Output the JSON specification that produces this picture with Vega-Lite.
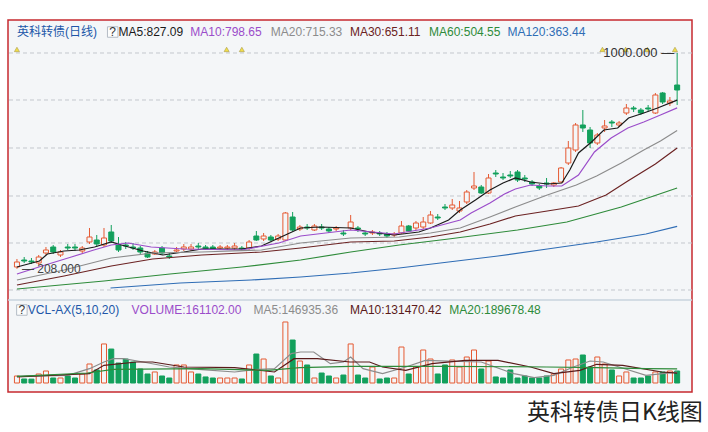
{
"$schema":"https://vega.github.io/schema/vega-lite/v6.json",
"width":684,"height":372,"autosize":"none",
"padding":{"left":8,"top":20,"right":16,"bottom":40},
"background":"white",
"title":{"text":"英科转债日K线图","orient":"bottom","anchor":"end","font":"Noto Sans CJK SC","fontSize":23,"fontWeight":"normal","color":"#222222","offset":10,"dx":10},
"config":{"view":{"fill":"#f4f6f8","stroke":"#c62a2f","strokeWidth":1.5}},
"datasets":{
"candles":[
{"i":0,"o":214.6,"h":244.0,"l":208.0,"c":233.0,"v":94000},
{"i":1,"o":240.3,"h":251.3,"l":229.3,"c":236.6,"v":54000},
{"i":2,"o":236.6,"h":247.7,"l":225.6,"c":233.0,"v":52000},
{"i":3,"o":229.3,"h":258.7,"l":222.0,"c":251.3,"v":121000},
{"i":4,"o":266.0,"h":288.0,"l":258.7,"c":277.0,"v":161000},
{"i":5,"o":288.0,"h":295.4,"l":262.3,"c":269.7,"v":67000},
{"i":6,"o":258.7,"h":277.0,"l":251.3,"c":269.7,"v":67000},
{"i":7,"o":288.0,"h":299.0,"l":277.0,"c":284.3,"v":94000},
{"i":8,"o":288.0,"h":299.0,"l":273.3,"c":284.3,"v":67000},
{"i":9,"o":273.3,"h":291.7,"l":266.0,"c":284.3,"v":121000},
{"i":10,"o":306.4,"h":357.8,"l":299.0,"c":324.7,"v":255000},
{"i":11,"o":313.7,"h":332.1,"l":288.0,"c":299.0,"v":175000},
{"i":12,"o":295.4,"h":357.8,"l":288.0,"c":321.1,"v":524000},
{"i":13,"o":343.1,"h":368.8,"l":302.7,"c":310.0,"v":456000},
{"i":14,"o":295.4,"h":324.7,"l":269.7,"c":277.0,"v":268000},
{"i":15,"o":295.4,"h":306.4,"l":280.7,"c":291.7,"v":322000},
{"i":16,"o":288.0,"h":302.7,"l":277.0,"c":284.3,"v":282000},
{"i":17,"o":284.3,"h":291.7,"l":262.3,"c":269.7,"v":188000},
{"i":18,"o":266.0,"h":273.3,"l":247.7,"c":251.3,"v":121000},
{"i":19,"o":262.3,"h":277.0,"l":258.7,"c":269.7,"v":148000},
{"i":20,"o":284.3,"h":291.7,"l":258.7,"c":266.0,"v":94000},
{"i":21,"o":255.0,"h":266.0,"l":244.0,"c":251.3,"v":67000},
{"i":22,"o":273.3,"h":288.0,"l":266.0,"c":277.0,"v":242000},
{"i":23,"o":280.7,"h":299.0,"l":273.3,"c":288.0,"v":242000},
{"i":24,"o":280.7,"h":299.0,"l":273.3,"c":288.0,"v":148000},
{"i":25,"o":291.7,"h":302.7,"l":280.7,"c":288.0,"v":121000},
{"i":26,"o":288.0,"h":295.4,"l":277.0,"c":280.7,"v":81000},
{"i":27,"o":288.0,"h":295.4,"l":277.0,"c":280.7,"v":67000},
{"i":28,"o":284.3,"h":295.4,"l":277.0,"c":288.0,"v":67000},
{"i":29,"o":284.3,"h":295.4,"l":277.0,"c":288.0,"v":67000},
{"i":30,"o":284.3,"h":302.7,"l":277.0,"c":291.7,"v":67000},
{"i":31,"o":284.3,"h":291.7,"l":273.3,"c":280.7,"v":54000},
{"i":32,"o":284.3,"h":313.7,"l":277.0,"c":306.4,"v":242000},
{"i":33,"o":328.4,"h":346.7,"l":310.0,"c":313.7,"v":389000},
{"i":34,"o":317.4,"h":339.4,"l":310.0,"c":328.4,"v":322000},
{"i":35,"o":324.7,"h":332.1,"l":310.0,"c":313.7,"v":94000},
{"i":36,"o":317.4,"h":335.7,"l":310.0,"c":328.4,"v":67000},
{"i":37,"o":313.7,"h":416.5,"l":310.0,"c":412.8,"v":819000},
{"i":38,"o":398.1,"h":416.5,"l":346.7,"c":350.4,"v":577000},
{"i":39,"o":354.1,"h":368.8,"l":346.7,"c":361.4,"v":295000},
{"i":40,"o":361.4,"h":372.4,"l":350.4,"c":357.8,"v":242000},
{"i":41,"o":350.4,"h":372.4,"l":346.7,"c":365.1,"v":67000},
{"i":42,"o":361.4,"h":372.4,"l":350.4,"c":357.8,"v":134000},
{"i":43,"o":354.1,"h":361.4,"l":339.4,"c":346.7,"v":94000},
{"i":44,"o":354.1,"h":365.1,"l":346.7,"c":357.8,"v":67000},
{"i":45,"o":339.4,"h":350.4,"l":328.4,"c":335.7,"v":107000},
{"i":46,"o":357.8,"h":405.5,"l":350.4,"c":379.8,"v":524000},
{"i":47,"o":357.8,"h":365.1,"l":343.1,"c":354.1,"v":107000},
{"i":48,"o":339.4,"h":346.7,"l":328.4,"c":335.7,"v":67000},
{"i":49,"o":339.4,"h":350.4,"l":332.1,"c":343.1,"v":215000},
{"i":50,"o":339.4,"h":346.7,"l":328.4,"c":335.7,"v":54000},
{"i":51,"o":335.7,"h":343.1,"l":321.1,"c":328.4,"v":67000},
{"i":52,"o":332.1,"h":343.1,"l":324.7,"c":335.7,"v":67000},
{"i":53,"o":339.4,"h":383.4,"l":335.7,"c":365.1,"v":483000},
{"i":54,"o":365.1,"h":368.8,"l":343.1,"c":346.7,"v":121000},
{"i":55,"o":357.8,"h":383.4,"l":350.4,"c":376.1,"v":215000},
{"i":56,"o":361.4,"h":398.1,"l":354.1,"c":379.8,"v":443000},
{"i":57,"o":376.1,"h":420.1,"l":372.4,"c":405.5,"v":322000},
{"i":58,"o":398.1,"h":409.1,"l":387.1,"c":394.5,"v":121000},
{"i":59,"o":434.8,"h":445.8,"l":423.8,"c":431.2,"v":242000},
{"i":60,"o":431.2,"h":464.2,"l":423.8,"c":442.2,"v":309000},
{"i":61,"o":420.1,"h":456.8,"l":412.8,"c":431.2,"v":215000},
{"i":62,"o":453.2,"h":497.2,"l":445.8,"c":489.9,"v":349000},
{"i":63,"o":504.6,"h":563.3,"l":497.2,"c":511.9,"v":443000},
{"i":64,"o":508.2,"h":515.6,"l":482.5,"c":486.2,"v":188000},
{"i":65,"o":486.2,"h":555.9,"l":482.5,"c":541.3,"v":295000},
{"i":66,"o":559.6,"h":570.6,"l":544.9,"c":555.9,"v":81000},
{"i":67,"o":544.9,"h":559.6,"l":533.9,"c":541.3,"v":67000},
{"i":68,"o":552.3,"h":566.9,"l":541.3,"c":548.6,"v":175000},
{"i":69,"o":563.3,"h":570.6,"l":526.6,"c":533.9,"v":67000},
{"i":70,"o":541.3,"h":552.3,"l":526.6,"c":537.6,"v":94000},
{"i":71,"o":526.6,"h":533.9,"l":511.9,"c":519.2,"v":67000},
{"i":72,"o":511.9,"h":519.2,"l":497.2,"c":504.6,"v":67000},
{"i":73,"o":522.9,"h":541.3,"l":504.6,"c":519.2,"v":94000},
{"i":74,"o":515.6,"h":526.6,"l":508.2,"c":522.9,"v":121000},
{"i":75,"o":526.6,"h":581.6,"l":522.9,"c":577.9,"v":188000},
{"i":76,"o":596.3,"h":677.1,"l":589.0,"c":651.4,"v":309000},
{"i":77,"o":644.0,"h":743.1,"l":636.7,"c":735.8,"v":322000},
{"i":78,"o":735.8,"h":790.8,"l":710.1,"c":724.8,"v":376000},
{"i":79,"o":717.4,"h":728.4,"l":651.4,"c":669.7,"v":215000},
{"i":80,"o":669.7,"h":706.4,"l":662.4,"c":699.1,"v":349000},
{"i":81,"o":724.8,"h":754.1,"l":710.1,"c":732.1,"v":255000},
{"i":82,"o":746.8,"h":754.1,"l":728.4,"c":743.1,"v":175000},
{"i":83,"o":735.8,"h":750.4,"l":728.4,"c":743.1,"v":94000},
{"i":84,"o":779.8,"h":812.8,"l":772.5,"c":798.2,"v":148000},
{"i":85,"o":798.2,"h":805.5,"l":783.5,"c":794.5,"v":67000},
{"i":86,"o":790.8,"h":798.2,"l":772.5,"c":779.8,"v":67000},
{"i":87,"o":798.2,"h":809.2,"l":783.5,"c":794.5,"v":94000},
{"i":88,"o":779.8,"h":853.2,"l":776.1,"c":845.9,"v":148000},
{"i":89,"o":853.2,"h":856.9,"l":812.8,"c":820.2,"v":148000},
{"i":90,"o":816.5,"h":838.5,"l":805.5,"c":823.8,"v":161000},
{"i":91,"o":882.5,"h":1000.0,"l":809.2,"c":864.2,"v":161102}
],
"ma":[
{"s":"MA5","i":0,"p":214.6},{"s":"MA5","i":3.1,"p":236.6},{"s":"MA5","i":4.2,"p":262.3},{"s":"MA5","i":6.5,"p":273.3},{"s":"MA5","i":8.6,"p":277.0},{"s":"MA5","i":10.7,"p":288.0},{"s":"MA5","i":13.0,"p":306.4},{"s":"MA5","i":14.4,"p":295.4},{"s":"MA5","i":17.4,"p":273.3},{"s":"MA5","i":20.1,"p":258.7},{"s":"MA5","i":23.0,"p":269.7},{"s":"MA5","i":25.5,"p":280.7},{"s":"MA5","i":31.0,"p":280.7},{"s":"MA5","i":33.7,"p":291.7},{"s":"MA5","i":36.1,"p":321.1},{"s":"MA5","i":37.9,"p":343.1},{"s":"MA5","i":39.1,"p":357.8},{"s":"MA5","i":41.8,"p":361.4},{"s":"MA5","i":46.0,"p":357.8},{"s":"MA5","i":48.6,"p":343.1},{"s":"MA5","i":52.0,"p":332.1},{"s":"MA5","i":55.4,"p":343.1},{"s":"MA5","i":57.0,"p":357.8},{"s":"MA5","i":59.5,"p":387.1},{"s":"MA5","i":61.1,"p":423.8},{"s":"MA5","i":63.2,"p":460.5},{"s":"MA5","i":65.2,"p":497.2},{"s":"MA5","i":67.0,"p":522.9},{"s":"MA5","i":68.7,"p":541.3},{"s":"MA5","i":70.8,"p":526.6},{"s":"MA5","i":73.1,"p":519.2},{"s":"MA5","i":75.1,"p":522.9},{"s":"MA5","i":76.2,"p":570.6},{"s":"MA5","i":77.4,"p":633.0},{"s":"MA5","i":79.2,"p":673.4},{"s":"MA5","i":80.9,"p":717.4},{"s":"MA5","i":82.8,"p":724.8},{"s":"MA5","i":84.3,"p":761.5},{"s":"MA5","i":86.4,"p":779.8},{"s":"MA5","i":88.3,"p":798.2},{"s":"MA5","i":91.0,"p":827.09},
{"s":"MA10","i":0,"p":188.9},{"s":"MA10","i":3.9,"p":221.9},{"s":"MA10","i":7.5,"p":251.3},{"s":"MA10","i":10.6,"p":277.0},{"s":"MA10","i":13.0,"p":295.4},{"s":"MA10","i":15.3,"p":302.7},{"s":"MA10","i":18.5,"p":288.0},{"s":"MA10","i":23.0,"p":280.7},{"s":"MA10","i":31.0,"p":277.0},{"s":"MA10","i":36.1,"p":302.7},{"s":"MA10","i":39.1,"p":328.4},{"s":"MA10","i":46.0,"p":350.4},{"s":"MA10","i":52.0,"p":335.7},{"s":"MA10","i":57.0,"p":357.8},{"s":"MA10","i":61.1,"p":387.1},{"s":"MA10","i":62.6,"p":413.0},{"s":"MA10","i":65.2,"p":449.5},{"s":"MA10","i":67.2,"p":482.5},{"s":"MA10","i":68.7,"p":500.9},{"s":"MA10","i":70.8,"p":515.6},{"s":"MA10","i":73.1,"p":511.9},{"s":"MA10","i":75.1,"p":511.9},{"s":"MA10","i":77.4,"p":552.3},{"s":"MA10","i":79.6,"p":636.7},{"s":"MA10","i":81.9,"p":688.0},{"s":"MA10","i":84.2,"p":724.8},{"s":"MA10","i":86.4,"p":746.8},{"s":"MA10","i":88.7,"p":772.5},{"s":"MA10","i":91.0,"p":798.65},
{"s":"MA20","i":0,"p":166.9},{"s":"MA20","i":6.5,"p":203.6},{"s":"MA20","i":13.0,"p":247.7},{"s":"MA20","i":18.7,"p":266.0},{"s":"MA20","i":25.5,"p":269.7},{"s":"MA20","i":33.7,"p":277.0},{"s":"MA20","i":39.1,"p":302.7},{"s":"MA20","i":46.0,"p":321.1},{"s":"MA20","i":52.7,"p":324.7},{"s":"MA20","i":57.0,"p":339.4},{"s":"MA20","i":61.1,"p":357.8},{"s":"MA20","i":65.2,"p":398.1},{"s":"MA20","i":68.7,"p":434.8},{"s":"MA20","i":73.1,"p":478.9},{"s":"MA20","i":77.1,"p":515.6},{"s":"MA20","i":79.9,"p":548.6},{"s":"MA20","i":83.3,"p":596.3},{"s":"MA20","i":86.4,"p":644.0},{"s":"MA20","i":88.7,"p":677.1},{"s":"MA20","i":91.0,"p":715.33},
{"s":"MA30","i":0,"p":148.6},{"s":"MA30","i":6.5,"p":181.6},{"s":"MA30","i":13.0,"p":218.3},{"s":"MA30","i":18.7,"p":244.0},{"s":"MA30","i":25.5,"p":258.7},{"s":"MA30","i":33.7,"p":269.7},{"s":"MA30","i":39.1,"p":284.3},{"s":"MA30","i":46.0,"p":306.4},{"s":"MA30","i":52.0,"p":310.0},{"s":"MA30","i":57.0,"p":324.7},{"s":"MA30","i":61.1,"p":343.1},{"s":"MA30","i":65.2,"p":372.4},{"s":"MA30","i":68.7,"p":401.8},{"s":"MA30","i":73.1,"p":420.1},{"s":"MA30","i":77.4,"p":438.5},{"s":"MA30","i":81.2,"p":478.9},{"s":"MA30","i":84.2,"p":530.2},{"s":"MA30","i":88.0,"p":592.6},{"s":"MA30","i":91.0,"p":651.11},
{"s":"MA60","i":0,"p":133.9},{"s":"MA60","i":12.0,"p":163.2},{"s":"MA60","i":21.1,"p":188.9},{"s":"MA60","i":31.0,"p":214.6},{"s":"MA60","i":39.1,"p":240.3},{"s":"MA60","i":46.0,"p":269.7},{"s":"MA60","i":52.7,"p":295.4},{"s":"MA60","i":59.5,"p":317.4},{"s":"MA60","i":69.0,"p":350.4},{"s":"MA60","i":75.8,"p":379.8},{"s":"MA60","i":83.3,"p":434.8},{"s":"MA60","i":91.0,"p":504.55},
{"s":"MA120","i":12.9,"p":137.5},{"s":"MA120","i":22.5,"p":155.9},{"s":"MA120","i":32.3,"p":166.9},{"s":"MA120","i":39.1,"p":177.9},{"s":"MA120","i":46.0,"p":192.6},{"s":"MA120","i":52.7,"p":211.0},{"s":"MA120","i":59.5,"p":232.9},{"s":"MA120","i":66.3,"p":255.0},{"s":"MA120","i":73.1,"p":280.7},{"s":"MA120","i":79.9,"p":306.4},{"s":"MA120","i":86.7,"p":335.7},{"s":"MA120","i":91.0,"p":363.44}
],
"vma":[
{"s":"VMA5","i":0,"v":89500},{"s":"VMA5","i":7,"v":103000},{"s":"VMA5","i":10,"v":192000},{"s":"VMA5","i":12,"v":282000},{"s":"VMA5","i":13.3,"v":327000},{"s":"VMA5","i":14.7,"v":327000},{"s":"VMA5","i":17.4,"v":282000},{"s":"VMA5","i":21,"v":215000},{"s":"VMA5","i":25.5,"v":179000},{"s":"VMA5","i":30,"v":148000},{"s":"VMA5","i":32.8,"v":179000},{"s":"VMA5","i":35.5,"v":192000},{"s":"VMA5","i":37.8,"v":394000},{"s":"VMA5","i":39.1,"v":416000},{"s":"VMA5","i":40.9,"v":416000},{"s":"VMA5","i":43.2,"v":260000},{"s":"VMA5","i":45,"v":282000},{"s":"VMA5","i":46,"v":349000},{"s":"VMA5","i":47.7,"v":192000},{"s":"VMA5","i":50.4,"v":125000},{"s":"VMA5","i":53.6,"v":215000},{"s":"VMA5","i":56.3,"v":304000},{"s":"VMA5","i":59.5,"v":295000},{"s":"VMA5","i":64,"v":282000},{"s":"VMA5","i":68.5,"v":125000},{"s":"VMA5","i":71.3,"v":72000},{"s":"VMA5","i":74,"v":103000},{"s":"VMA5","i":76.7,"v":215000},{"s":"VMA5","i":79,"v":295000},{"s":"VMA5","i":80.8,"v":282000},{"s":"VMA5","i":83,"v":215000},{"s":"VMA5","i":86.7,"v":103000},{"s":"VMA5","i":91,"v":146935},
{"s":"VMA10","i":0,"v":81000},{"s":"VMA10","i":10,"v":125000},{"s":"VMA10","i":12,"v":237000},{"s":"VMA10","i":16.5,"v":282000},{"s":"VMA10","i":18.7,"v":282000},{"s":"VMA10","i":23,"v":215000},{"s":"VMA10","i":30,"v":206000},{"s":"VMA10","i":35.5,"v":148000},{"s":"VMA10","i":38.2,"v":327000},{"s":"VMA10","i":41.4,"v":327000},{"s":"VMA10","i":45.9,"v":282000},{"s":"VMA10","i":48.6,"v":282000},{"s":"VMA10","i":50.4,"v":215000},{"s":"VMA10","i":53.6,"v":170000},{"s":"VMA10","i":57.2,"v":260000},{"s":"VMA10","i":61.8,"v":304000},{"s":"VMA10","i":66.3,"v":304000},{"s":"VMA10","i":70.8,"v":215000},{"s":"VMA10","i":74,"v":125000},{"s":"VMA10","i":77.6,"v":170000},{"s":"VMA10","i":79.9,"v":251000},{"s":"VMA10","i":83.5,"v":237000},{"s":"VMA10","i":88.9,"v":148000},{"s":"VMA10","i":91,"v":131470},
{"s":"VMA20","i":0,"v":89500},{"s":"VMA20","i":9.7,"v":134000},{"s":"VMA20","i":13.3,"v":183000},{"s":"VMA20","i":25.5,"v":192000},{"s":"VMA20","i":34.6,"v":170000},{"s":"VMA20","i":39,"v":206000},{"s":"VMA20","i":46,"v":224000},{"s":"VMA20","i":59.5,"v":224000},{"s":"VMA20","i":73,"v":215000},{"s":"VMA20","i":79.9,"v":206000},{"s":"VMA20","i":86.7,"v":192000},{"s":"VMA20","i":91,"v":189678}
],
"hdr":[
{"t":"英科转债(日线)","k":"title","i":0},
{"t":"MA5:827.09","k":"MA5","i":14.0},
{"t":"MA10:798.65","k":"MA10","i":23.9},
{"t":"MA20:715.33","k":"MA20","i":35.0},
{"t":"MA30:651.11","k":"MA30","i":45.9},
{"t":"MA60:504.55","k":"MA60","i":56.8},
{"t":"MA120:363.44","k":"MA120","i":67.6}
],
"vhdr":[
{"t":"VCL-AX(5,10,20)","k":"VCL","i":1.5},
{"t":"VOLUME:161102.00","k":"VOL","i":15.8},
{"t":"MA5:146935.36","k":"VMA5","i":32.6},
{"t":"MA10:131470.42","k":"VMA10","i":45.9},
{"t":"MA20:189678.48","k":"VMA20","i":59.6}
],
"events":[{"i":0},{"i":28.9},{"i":31.0},{"i":80.7},{"i":83.9},{"i":86.9},{"i":90.7}],
"grid":[{"g":1000},{"g":827.5},{"g":651.4},{"g":475.2},{"g":302.7},{"g":130.2}]
},
"resolve":{"scale":{"y":"independent"}},
"layer":[
{"layer":[
{"data":{"name":"grid"},"mark":{"type":"rule","color":"#c3c7cd","strokeDash":[4,3],"strokeWidth":1},
 "encoding":{"y":{"field":"g","type":"quantitative","scale":{"domain":[-244.1,1121.1],"nice":false,"zero":false},"axis":null}}},
{"data":{"name":"candles"},"mark":{"type":"rule","strokeWidth":1},
 "encoding":{"x":{"field":"i","type":"quantitative","scale":{"domain":[-0.543,92.358],"nice":false,"zero":false},"axis":null},
  "y":{"field":"l","type":"quantitative","scale":{"domain":[-244.1,1121.1],"nice":false,"zero":false},"axis":null},"y2":{"field":"h"},
  "color":{"condition":{"test":"datum.c >= datum.o","value":"#e55a33"},"value":"#12a05c"}}},
{"data":{"name":"candles"},"mark":{"type":"bar","width":5,"strokeWidth":1},
 "encoding":{"x":{"field":"i","type":"quantitative","scale":{"domain":[-0.543,92.358],"nice":false,"zero":false},"axis":null},
  "y":{"field":"o","type":"quantitative","scale":{"domain":[-244.1,1121.1],"nice":false,"zero":false},"axis":null},"y2":{"field":"c"},
  "fill":{"condition":{"test":"datum.c >= datum.o","value":"#f4f6f8"},"value":"#12a05c"},
  "stroke":{"condition":{"test":"datum.c >= datum.o","value":"#e55a33"},"value":"#12a05c"}}},
{"data":{"name":"ma"},"mark":{"type":"line","strokeWidth":1.2},
 "encoding":{"x":{"field":"i","type":"quantitative","scale":{"domain":[-0.543,92.358],"nice":false,"zero":false},"axis":null},
  "y":{"field":"p","type":"quantitative","scale":{"domain":[-244.1,1121.1],"nice":false,"zero":false},"axis":null},
  "color":{"field":"s","type":"nominal","legend":null,"scale":{"domain":["MA5","MA10","MA20","MA30","MA60","MA120","title","VCL","VOL","VMA5","VMA10","VMA20"],"range":["#1a1a1a","#9b4dca","#8c8c8c","#6b2222","#2e8b3a","#2f6db5","#2156a8","#2156a8","#9b4dca","#8c8c8c","#5a1a1a","#2e8b3a"]}}}},
{"data":{"name":"hdr"},"mark":{"type":"text","align":"left","baseline":"middle","fontSize":12,"font":"Liberation Sans, Noto Sans CJK SC"},
 "encoding":{"x":{"field":"i","type":"quantitative","scale":{"domain":[-0.543,92.358],"nice":false,"zero":false},"axis":null},
  "y":{"datum":1077,"type":"quantitative","scale":{"domain":[-244.1,1121.1],"nice":false,"zero":false},"axis":null},
  "text":{"field":"t"},
  "color":{"field":"k","type":"nominal","legend":null,"scale":{"domain":["MA5","MA10","MA20","MA30","MA60","MA120","title","VCL","VOL","VMA5","VMA10","VMA20"],"range":["#1a1a1a","#9b4dca","#8c8c8c","#6b2222","#2e8b3a","#2f6db5","#2156a8","#2156a8","#9b4dca","#8c8c8c","#5a1a1a","#2e8b3a"]}}}},
{"data":{"values":[{"i":13.2}]},"mark":{"type":"point","shape":"square","size":110,"filled":true,"fill":"#ffffff","stroke":"#9aa4b0","strokeWidth":1},
 "encoding":{"x":{"field":"i","type":"quantitative","scale":{"domain":[-0.543,92.358],"nice":false,"zero":false},"axis":null},
  "y":{"datum":1077,"type":"quantitative","scale":{"domain":[-244.1,1121.1],"nice":false,"zero":false},"axis":null}}},
{"data":{"values":[{"i":13.2}]},"mark":{"type":"text","text":"?","align":"center","baseline":"middle","fontSize":12,"font":"Liberation Sans","color":"#333333"},
 "encoding":{"x":{"field":"i","type":"quantitative","scale":{"domain":[-0.543,92.358],"nice":false,"zero":false},"axis":null},
  "y":{"datum":1077,"type":"quantitative","scale":{"domain":[-244.1,1121.1],"nice":false,"zero":false},"axis":null}}},
{"data":{"name":"events"},"mark":{"type":"point","shape":"triangle-up","size":26,"filled":true,"fill":"#f2d600","stroke":"#8a7400","strokeWidth":0.6},
 "encoding":{"x":{"field":"i","type":"quantitative","scale":{"domain":[-0.543,92.358],"nice":false,"zero":false},"axis":null},
  "y":{"datum":1013,"type":"quantitative","scale":{"domain":[-244.1,1121.1],"nice":false,"zero":false},"axis":null}}},
{"data":{"values":[{"t":"1000.000 —","i":91,"p":1000}]},"mark":{"type":"text","align":"right","baseline":"middle","dx":-3,"fontSize":13,"font":"Liberation Sans","color":"#333333"},
 "encoding":{"x":{"field":"i","type":"quantitative","scale":{"domain":[-0.543,92.358],"nice":false,"zero":false},"axis":null},
  "y":{"field":"p","type":"quantitative","scale":{"domain":[-244.1,1121.1],"nice":false,"zero":false},"axis":null},"text":{"field":"t"}}},
{"data":{"values":[{"t":"— 208.000","i":0,"p":208}]},"mark":{"type":"text","align":"left","baseline":"middle","dx":5,"fontSize":12,"font":"Liberation Sans","color":"#444444"},
 "encoding":{"x":{"field":"i","type":"quantitative","scale":{"domain":[-0.543,92.358],"nice":false,"zero":false},"axis":null},
  "y":{"field":"p","type":"quantitative","scale":{"domain":[-244.1,1121.1],"nice":false,"zero":false},"axis":null},"text":{"field":"t"}}}
]},
{"layer":[
{"data":{"values":[{"g":1114275}]},"mark":{"type":"rule","color":"#c9d3de","strokeWidth":1.5},
 "encoding":{"y":{"field":"g","type":"quantitative","scale":{"domain":[-120825,4873275],"nice":false,"zero":false},"axis":null}}},
{"data":{"name":"candles"},"mark":{"type":"bar","width":5,"strokeWidth":1},
 "encoding":{"x":{"field":"i","type":"quantitative","scale":{"domain":[-0.543,92.358],"nice":false,"zero":false},"axis":null},
  "y":{"field":"v","type":"quantitative","scale":{"domain":[-120825,4873275],"nice":false,"zero":false},"axis":null},"y2":{"datum":0},
  "fill":{"condition":{"test":"datum.c >= datum.o","value":"#f4f6f8"},"value":"#12a05c"},
  "stroke":{"condition":{"test":"datum.c >= datum.o","value":"#e55a33"},"value":"#12a05c"}}},
{"data":{"name":"vma"},"mark":{"type":"line","strokeWidth":1.2},
 "encoding":{"x":{"field":"i","type":"quantitative","scale":{"domain":[-0.543,92.358],"nice":false,"zero":false},"axis":null},
  "y":{"field":"v","type":"quantitative","scale":{"domain":[-120825,4873275],"nice":false,"zero":false},"axis":null},
  "color":{"field":"s","type":"nominal","legend":null,"scale":{"domain":["MA5","MA10","MA20","MA30","MA60","MA120","title","VCL","VOL","VMA5","VMA10","VMA20"],"range":["#1a1a1a","#9b4dca","#8c8c8c","#6b2222","#2e8b3a","#2f6db5","#2156a8","#2156a8","#9b4dca","#8c8c8c","#5a1a1a","#2e8b3a"]}}}},
{"data":{"name":"vhdr"},"mark":{"type":"text","align":"left","baseline":"middle","fontSize":12,"font":"Liberation Sans, Noto Sans CJK SC"},
 "encoding":{"x":{"field":"i","type":"quantitative","scale":{"domain":[-0.543,92.358],"nice":false,"zero":false},"axis":null},
  "y":{"datum":980000,"type":"quantitative","scale":{"domain":[-120825,4873275],"nice":false,"zero":false},"axis":null},
  "text":{"field":"t"},
  "color":{"field":"k","type":"nominal","legend":null,"scale":{"domain":["MA5","MA10","MA20","MA30","MA60","MA120","title","VCL","VOL","VMA5","VMA10","VMA20"],"range":["#1a1a1a","#9b4dca","#8c8c8c","#6b2222","#2e8b3a","#2f6db5","#2156a8","#2156a8","#9b4dca","#8c8c8c","#5a1a1a","#2e8b3a"]}}}},
{"data":{"values":[{"i":0.68}]},"mark":{"type":"point","shape":"square","size":110,"filled":true,"fill":"#ffffff","stroke":"#9aa4b0","strokeWidth":1},
 "encoding":{"x":{"field":"i","type":"quantitative","scale":{"domain":[-0.543,92.358],"nice":false,"zero":false},"axis":null},
  "y":{"datum":980000,"type":"quantitative","scale":{"domain":[-120825,4873275],"nice":false,"zero":false},"axis":null}}},
{"data":{"values":[{"i":0.68}]},"mark":{"type":"text","text":"?","align":"center","baseline":"middle","fontSize":12,"font":"Liberation Sans","color":"#333333"},
 "encoding":{"x":{"field":"i","type":"quantitative","scale":{"domain":[-0.543,92.358],"nice":false,"zero":false},"axis":null},
  "y":{"datum":980000,"type":"quantitative","scale":{"domain":[-120825,4873275],"nice":false,"zero":false},"axis":null}}}
]}
]
}
